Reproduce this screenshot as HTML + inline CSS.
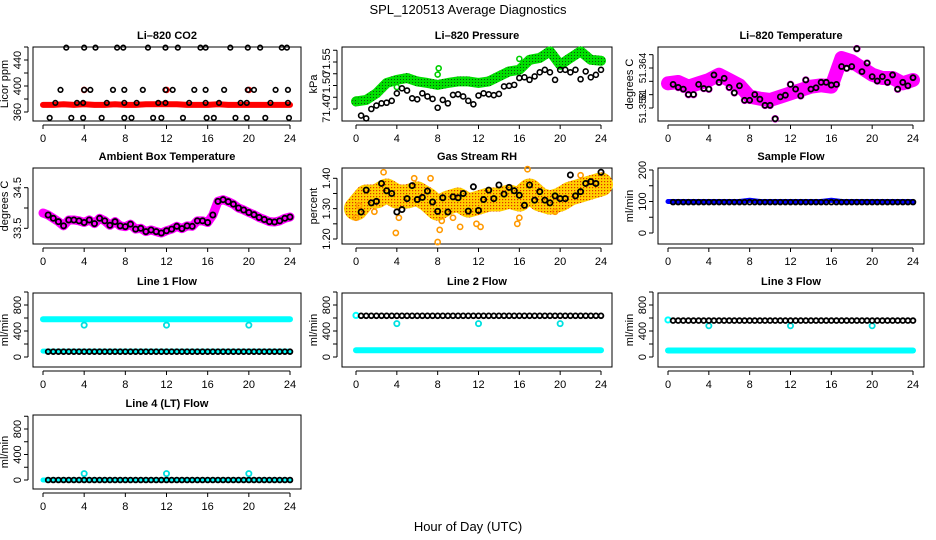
<!DOCTYPE html>
<html><head><meta charset="utf-8"><style>
html,body{margin:0;padding:0;background:#fff;}
svg{display:block;font-family:"Liberation Sans",sans-serif;}
</style></head><body>
<svg id="chart" width="936" height="540" viewBox="0 0 936 540" xmlns="http://www.w3.org/2000/svg">
<defs>
<pattern id="greenpat" width="3" height="3" patternUnits="userSpaceOnUse"><rect width="3" height="3" fill="#00e000"/><rect x="1" y="1" width="1" height="1" fill="#105010"/></pattern>
<pattern id="rhpat" width="3" height="3" patternUnits="userSpaceOnUse"><rect width="3" height="3" fill="#ffd000"/><rect x="1" y="1" width="1.2" height="1.2" fill="#e03000"/></pattern>
</defs>
<text x="468" y="14" text-anchor="middle" font-size="13">SPL_120513  Average Diagnostics</text>
<text x="468" y="531" text-anchor="middle" font-size="13">Hour of Day (UTC)</text>
</svg>
<script>
// ---------- data ----------
const HOURS = [0,1,2,3,4,5,6,7,8,9,10,11,12,13,14,15,16,17,18,19,20,21,22,23,24];
const HALF = [0.5,1,1.5,2,2.5,3,3.5,4,4.5,5,5.5,6,6.5,7,7.5,8,8.5,9,9.5,10,10.5,11,11.5,12,12.5,13,13.5,14,14.5,15,15.5,16,16.5,17,17.5,18,18.5,19,19.5,20,20.5,21,21.5,22,22.5,23,23.5,24];
const HALF0 = [0,0.5,1,1.5,2,2.5,3,3.5,4,4.5,5,5.5,6,6.5,7,7.5,8,8.5,9,9.5,10,10.5,11,11.5,12,12.5,13,13.5,14,14.5,15,15.5,16,16.5,17,17.5,18,18.5,19,19.5,20,20.5,21,21.5,22,22.5,23,23.5,24];
const X_TICKS = [0,4,8,12,16,20,24];

// CO2
const co2Red = [371,371,372,371,372,371,371,372,371,371,372,372,372,372,371,371,371,372,371,371,371,371,371,371,371];
const co2RedExtraX = [4,12,20];
const co2RedExtraY = [394,394,394];
const co2BlkX = [2.26,4.0,5.1,7.2,7.8,10.2,11.9,13.1,15.3,15.8,18.2,19.9,21.1,23.2,23.7,
  1.7,4.0,4.6,6.8,7.9,9.7,11.9,12.6,14.7,15.8,17.6,19.9,20.5,22.6,23.8,
  1.2,3.3,3.9,6.2,7.9,9.1,11.2,11.9,14.2,15.8,17.1,19.2,19.8,22.1,23.8,
  0.65,2.75,3.9,5.7,7.9,8.6,10.7,11.5,13.6,15.9,16.6,18.7,19.8,21.6,23.9];
const co2BlkY = [459,459,459,459,459,459,459,459,459,459,459,459,459,459,459,
  394,394,394,394,394,394,394,394,394,394,394,394,394,394,394,
  374,374,374,374,374,374,374,374,374,374,374,374,374,374,374,
  351,351,351,351,351,351,351,351,351,351,351,351,351,351,351];

// Pressure
const presGreen = [71.424,71.429,71.45,71.483,71.493,71.499,71.488,71.483,71.477,71.483,71.488,71.488,71.483,71.488,71.504,71.52,71.525,71.557,71.563,71.584,71.541,71.563,71.584,71.557,71.554];
const presBlk = [71.379,71.370,71.400,71.411,71.418,71.420,71.426,71.450,71.466,71.459,71.434,71.431,71.450,71.440,71.432,71.404,71.429,71.418,71.445,71.447,71.440,71.426,71.415,71.443,71.450,71.447,71.444,71.448,71.472,71.474,71.477,71.499,71.501,71.493,71.504,71.517,71.525,71.517,71.493,71.525,71.525,71.517,71.525,71.495,71.520,71.501,71.509,71.525];
const presTicks = [71.40,71.4375,71.475,71.5125,71.55,71.5875];
const presTickLabels = ['71.40','','71.50','','71.55',''];

// Li-820 temperature
const ltMag = [51.3617,51.3619,51.3612,51.3617,51.3622,51.3630,51.3622,51.3614,51.3597,51.3594,51.3592,51.3597,51.3602,51.3607,51.3612,51.3614,51.3612,51.3655,51.3650,51.3640,51.3630,51.3625,51.3625,51.3617,51.3622];
const ltBlk = [51.36154,51.36109,51.36083,51.36002,51.36002,51.36154,51.36093,51.36083,51.36296,51.36185,51.36245,51.36109,51.36028,51.36134,51.35916,51.35916,51.36002,51.35932,51.3584,51.3584,51.35638,51.35967,51.35992,51.36154,51.36083,51.35982,51.3622,51.36083,51.36104,51.36185,51.36185,51.36144,51.36154,51.36422,51.36397,51.36422,51.3669,51.36346,51.36473,51.36271,51.36205,51.36271,51.36185,51.36296,51.36083,51.36185,51.36134,51.36255];

// Ambient box temperature (h0..24 step 0.5)
const boxT = [33.877,33.828,33.746,33.664,33.561,33.705,33.705,33.684,33.643,33.705,33.615,33.746,33.684,33.574,33.664,33.561,33.541,33.602,33.480,33.5,33.418,33.459,33.418,33.385,33.439,33.480,33.549,33.492,33.561,33.549,33.684,33.684,33.643,33.828,34.164,34.205,34.156,34.094,34.0,33.951,33.889,33.836,33.766,33.717,33.664,33.656,33.684,33.746,33.779];

// Gas stream RH
const rhBand = [1.30,1.34,1.34,1.36,1.34,1.34,1.35,1.33,1.30,1.32,1.33,1.31,1.32,1.33,1.33,1.34,1.33,1.36,1.33,1.32,1.33,1.35,1.36,1.37,1.38];
const rhBlk = [1.289,1.361,1.319,1.324,1.383,1.359,1.350,1.289,1.297,1.333,1.376,1.330,1.337,1.358,1.322,1.291,1.336,1.289,1.339,1.336,1.350,1.292,1.372,1.294,1.330,1.361,1.333,1.378,1.348,1.370,1.359,1.344,1.311,1.378,1.328,1.356,1.328,1.319,1.342,1.333,1.333,1.411,1.342,1.356,1.383,1.389,1.383,1.420];
const rhOutX = [3.9,8,8.2,10.2,11.8,15.8,16,0,7.3,2.7,16.8,22,5.7,1.8,4.2,12.2,8.4,0.3,9.5,19.5];
const rhOutY = [1.22,1.19,1.23,1.24,1.25,1.25,1.27,1.27,1.40,1.42,1.43,1.41,1.40,1.29,1.27,1.24,1.26,1.31,1.27,1.29];

// Sample flow
const sfBlue = [100,100,100,100,100,100,100,100,104,100,100,100,100,100,100,100,104,100,100,100,100,100,100,100,100];
const sfBlk = [98,98,98,98,98,98,98,98,98,98,98,98,98,98,98,98,98,98,98,98,98,98,98,98,98,98,98,98,98,98,98,98,98,98,98,98,98,98,98,98,98,98,98,98,98,98,98,98];

// Line flows
const l1CyanHi = [580,580,580,580,580,580,580,580,580,580,580,580,580,580,580,580,580,580,580,580,580,580,580,580,580];
const l1CyanLo = [90,90,90,90,90,90,90,90,90,90,90,90,90,90,90,90,90,90,90,90,90,90,90,90,90];
const l1Blk = [82,82,82,82,82,82,82,82,82,82,82,82,82,82,82,82,82,82,82,82,82,82,82,82,82,82,82,82,82,82,82,82,82,82,82,82,82,82,82,82,82,82,82,82,82,82,82,82];
const l1OutY = [490,490,490];
const l2CyanLo = [104,104,104,104,104,104,104,104,104,104,104,104,104,104,104,104,104,104,104,104,104,104,104,104,104];
const l2Blk = [634,634,634,634,634,634,634,634,634,634,634,634,634,634,634,634,634,634,634,634,634,634,634,634,634,634,634,634,634,634,634,634,634,634,634,634,634,634,634,634,634,634,634,634,634,634,634,634];
const l2OutY = [514,514,514];
const l2Start = 640;
const l3CyanLo = [100,100,100,100,100,100,100,100,100,100,100,100,100,100,100,100,100,100,100,100,100,100,100,100,100];
const l3Blk = [560,560,560,560,560,560,560,560,560,560,560,560,560,560,560,560,560,560,560,560,560,560,560,560,560,560,560,560,560,560,560,560,560,560,560,560,560,560,560,560,560,560,560,560,560,560,560,560];
const l3OutY = [480,480,480];
const l3Start = 570;
const l4Cyan = [0,0,0,0,0,0,0,0,0,0,0,0,0,0,0,0,0,0,0,0,0,0,0,0,0];
const l4Blk = [0,0,0,0,0,0,0,0,0,0,0,0,0,0,0,0,0,0,0,0,0,0,0,0,0,0,0,0,0,0,0,0,0,0,0,0,0,0,0,0,0,0,0,0,0,0,0,0];
const l4OutY = [100,100,100];
const OUT_X = [4,12,20];

// ---------- drawing ----------
const NS = 'http://www.w3.org/2000/svg';
const svg = document.getElementById('chart');
function mk(tag, attrs, parent) {
  const e = document.createElementNS(NS, tag);
  for (const k in attrs) e.setAttribute(k, attrs[k]);
  parent.appendChild(e);
  return e;
}
const C1 = {l:33, r:301, x0:43, x24:290};
const C2 = {l:342, r:612, x0:356, x24:601};
const C3 = {l:658, r:924, x0:668, x24:913};
const R1 = {t:47, b:121}, R2 = {t:168, b:244}, R3 = {t:293, b:367}, R4 = {t:415, b:489};

function panel(name, title, ylab, col, row, yv0, yp0, yv1, yp1, yTicks, yLabels, yfs) {
  const g = mk('g', {}, svg);
  
  
  const X = h => col.x0 + h * (col.x24 - col.x0) / 24;
  const Y = v => yp0 + (v - yv0) * (yp1 - yp0) / (yv1 - yv0);
  const box = mk('rect', {x:col.l, y:row.t, width:col.r-col.l, height:row.b-row.t, fill:'none', stroke:'#000', 'stroke-width':1}, g);
  
  
  const t = mk('text', {x:(col.l+col.r)/2, y:row.t-8, 'text-anchor':'middle', 'font-size':11, 'font-weight':'bold'}, g);
  t.textContent = title;
  
  
  const xa = mk('g', {}, g);
  
  
  const ay = row.b + 4;
  mk('line', {x1:X(0), x2:X(24), y1:ay, y2:ay, stroke:'#000'}, xa);
  X_TICKS.forEach(h => {
    mk('line', {x1:X(h), x2:X(h), y1:ay, y2:ay+4, stroke:'#000'}, xa);
    const lt = mk('text', {x:X(h), y:row.b+21, 'text-anchor':'middle', 'font-size':11}, xa);
    lt.textContent = h;
    
    
  });
  const ya = mk('g', {}, g);
  
  
  const ax = col.l - 5;
  mk('line', {x1:ax, x2:ax, y1:Y(yTicks[0]), y2:Y(yTicks[yTicks.length-1]), stroke:'#000'}, ya);
  yTicks.forEach((v, i) => {
    mk('line', {x1:ax-4, x2:ax, y1:Y(v), y2:Y(v), stroke:'#000'}, ya);
    if (yLabels[i]) {
      const lx = col.l - 12, lyy = Y(v);
      const lt = mk('text', {x:lx, y:lyy, 'text-anchor':'middle', 'font-size':yfs||11, transform:`rotate(-90 ${lx} ${lyy})`}, ya);
      lt.textContent = yLabels[i];
      
      
    }
  });
  const yx = col.l - 25, yy = (row.t + row.b) / 2;
  const yt = mk('text', {x:yx, y:yy, 'text-anchor':'middle', 'font-size':11, transform:`rotate(-90 ${yx} ${yy})`}, g);
  yt.textContent = ylab;
  
  
  return {g, X, Y};
}
function band(p, xs, ys, stroke, width, name) {
  const pl = mk('polyline', {points: xs.map((h,i)=>p.X(h)+','+p.Y(ys[i])).join(' '), fill:'none', stroke:stroke, 'stroke-width':width, 'stroke-linejoin':'round', 'stroke-linecap':'round'}, p.g);
  
  
}
function pts(p, xs, ys, color, r, sw, name) {
  const g = mk('g', {}, p.g);
  
  
  xs.forEach((h, i) => {
    const c = mk('circle', {cx:p.X(h), cy:p.Y(ys[i]), r:r, fill:'none', stroke:color, 'stroke-width':sw}, g);
    
    
  });
}

let p = panel('co2', 'Li\u2013820 CO2', 'Licor ppm', C1, R1, 360, 112, 440, 60, [360,380,400,420,440,460], ['360','','400','','440','']);
band(p, HOURS, co2Red, '#ff0000', 6, 'co2-red-series');
pts(p, co2RedExtraX, co2RedExtraY, '#ff0000', 2.5, 1.6, 'co2-red-points');
pts(p, co2BlkX, co2BlkY, '#000', 2.3, 1.6, 'co2-black-points');

p = panel('pressure', 'Li\u2013820 Pressure', 'kPa', C2, R1, 71.40, 109, 71.55, 62, presTicks, presTickLabels);
band(p, HOURS, presGreen, 'url(#greenpat)', 10, 'pressure-green-series');
pts(p, [0,4,8,8.1,16], [71.43,71.47,71.51,71.53,71.56], '#00d000', 2.5, 1.6, 'pressure-green-points');
pts(p, HALF, presBlk, '#000', 2.5, 1.6, 'pressure-black-points');

p = panel('li820-temp', 'Li\u2013820 Temperature', 'degrees C', C3, R1, 51.358, 108, 51.364, 68, [51.358,51.360,51.362,51.364,51.366], ['51.358','51','','51.364',''], 10);
band(p, HOURS, ltMag, '#ff00ff', 14, 'li820-temp-magenta-series');
pts(p, HALF, ltBlk, '#ff00ff', 3, 1.6, 'li820-temp-magenta-points');
pts(p, HALF, ltBlk, '#000', 2.5, 1.8, 'li820-temp-black-points');

p = panel('box-temp', 'Ambient Box Temperature', 'degrees C', C1, R2, 33.5, 228.3, 34.5, 187.7, [33.5,34.0,34.5], ['33.5','','34.5']);
band(p, HALF0, boxT, '#ff00ff', 9, 'box-temp-magenta-series');
pts(p, HALF, boxT.slice(1), '#000', 2.6, 1.8, 'box-temp-black-points');

p = panel('rh', 'Gas Stream RH', 'percent', C2, R2, 1.20, 239, 1.40, 178.3, [1.20,1.25,1.30,1.35,1.40], ['1.20','','1.30','','1.40']);
band(p, HOURS, rhBand, 'url(#rhpat)', 24, 'rh-orange-series');
pts(p, rhOutX, rhOutY, '#ff9900', 2.6, 1.6, 'rh-outlier-points');
pts(p, HALF, rhBlk, '#000', 2.6, 1.8, 'rh-black-points');

p = panel('sample-flow', 'Sample Flow', 'ml/min', C3, R2, 0, 233, 200, 170, [0,50,100,150,200], ['0','','100','','200']);
band(p, HOURS, sfBlue, '#0000ff', 5, 'sample-flow-blue-series');
pts(p, HALF, sfBlk, '#000', 2.4, 1.8, 'sample-flow-black-points');

const FT = [0,200,400,600,800,1000], FL = ['0','','400','','800',''];
p = panel('line1-flow', 'Line 1 Flow', 'ml/min', C1, R3, 0, 357, 800, 305, FT, FL);
band(p, HOURS, l1CyanHi, '#00ffff', 6, 'line1-cyan-high-series');
band(p, HOURS, l1CyanLo, '#00ffff', 5, 'line1-cyan-low-series');
pts(p, OUT_X, l1OutY, '#00e0e0', 2.6, 1.8, 'line1-cyan-points');
pts(p, HALF, l1Blk, '#000', 2.4, 1.8, 'line1-black-points');

p = panel('line2-flow', 'Line 2 Flow', 'ml/min', C2, R3, 0, 357, 800, 305, FT, FL);
band(p, HOURS, l2CyanLo, '#00ffff', 6, 'line2-cyan-series');
pts(p, [0], [l2Start], '#00ffff', 2.6, 2, 'line2-cyan-start');
pts(p, OUT_X, l2OutY, '#00e0e0', 2.6, 1.8, 'line2-cyan-points');
pts(p, HALF, l2Blk, '#000', 2.4, 1.8, 'line2-black-points');

p = panel('line3-flow', 'Line 3 Flow', 'ml/min', C3, R3, 0, 357, 800, 305, FT, FL);
band(p, HOURS, l3CyanLo, '#00ffff', 6, 'line3-cyan-series');
pts(p, [0], [l3Start], '#00ffff', 2.6, 2, 'line3-cyan-start');
pts(p, OUT_X, l3OutY, '#00e0e0', 2.6, 1.8, 'line3-cyan-points');
pts(p, HALF, l3Blk, '#000', 2.4, 1.8, 'line3-black-points');

p = panel('line4-flow', 'Line 4 (LT) Flow', 'ml/min', C1, R4, 0, 480, 800, 429, FT, FL);
band(p, HOURS, l4Cyan, '#00ffff', 5, 'line4-cyan-series');
pts(p, OUT_X, l4OutY, '#00e0e0', 2.6, 1.8, 'line4-cyan-points');
pts(p, HALF, l4Blk, '#000', 2.4, 1.8, 'line4-black-points');
</script>
</body></html>
